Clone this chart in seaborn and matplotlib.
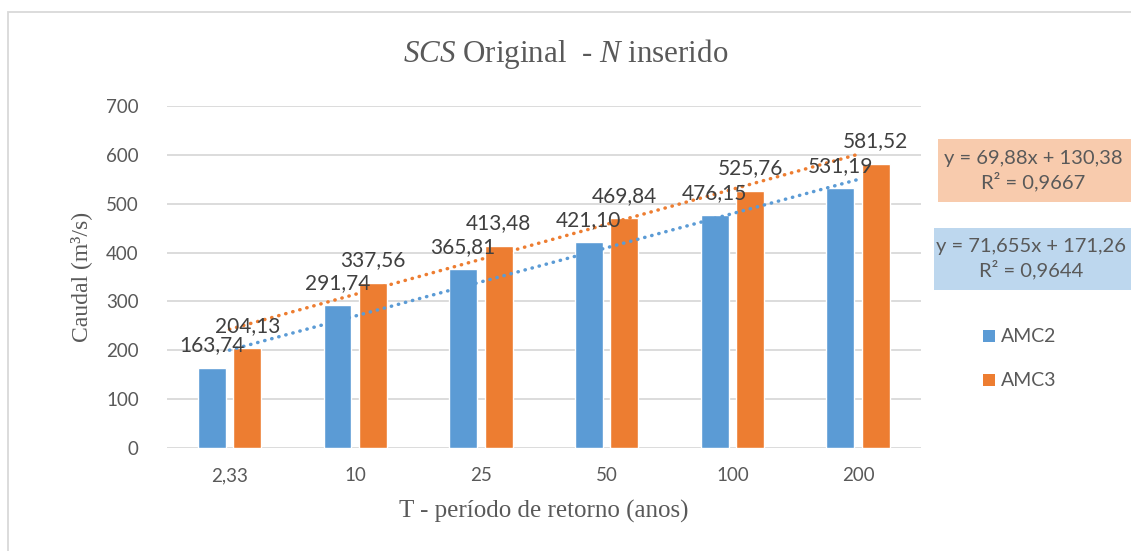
import numpy as np
import pandas as pd
import matplotlib
matplotlib.use("Agg")
import matplotlib.pyplot as plt
from matplotlib.patches import Rectangle
import seaborn as sns

# ---- data ----
categories = ["2,33", "10", "25", "50", "100", "200"]
amc2 = [163.74, 291.74, 365.81, 421.10, 476.15, 531.19]
amc3 = [204.13, 337.56, 413.48, 469.84, 525.76, 581.52]
series_names = ["AMC2", "AMC3"]
eq_texts = ["y = 69,88x + 130,38\nR² = 0,9667", "y = 71,655x + 171,26\nR² = 0,9644"]
yticks = [0, 100, 200, 300, 400, 500, 600, 700]

BLUE = "#5B9BD5"
ORANGE = "#ED7D31"
GREY = "#595959"
GRID = "#D9D9D9"

df = pd.DataFrame({
    "T": categories * 2,
    "Caudal": amc2 + amc3,
    "Serie": [series_names[0]] * len(categories) + [series_names[1]] * len(categories),
})

sns.set_theme(style="white")
plt.rcParams["font.family"] = ["Lato", "DejaVu Sans"]
plt.rcParams["mathtext.fontset"] = "custom"
plt.rcParams["mathtext.rm"] = "Liberation Serif"
plt.rcParams["mathtext.it"] = "Liberation Serif:italic"

W, H = 1131, 551
fig = plt.figure(figsize=(11.31, 5.51), dpi=100)
ax = fig.add_axes([0.1473, 0.1869, 0.8143 - 0.1473, 0.8076 - 0.1869])

sns.barplot(data=df, x="T", y="Caudal", hue="Serie", order=categories,
            hue_order=series_names, palette=[BLUE, ORANGE], width=0.564,
            gap=0.213, ax=ax, legend=False, saturation=1, zorder=2)

ax.set_ylim(0, 700)
ax.set_xlim(-0.5, len(categories) - 0.5)
ax.set_yticks(yticks)
ax.set_yticklabels([str(v) for v in yticks])
ax.yaxis.grid(True, color=GRID, linewidth=1.3, zorder=0)
ax.set_axisbelow(True)
for s in ax.spines.values():
    s.set_visible(False)
ax.tick_params(axis="both", length=0, labelsize=13.5, labelcolor=GREY)
ax.tick_params(axis="y", pad=20)
ax.tick_params(axis="x", pad=14)

# data labels
for cont in ax.containers:
    for bar in cont:
        h = bar.get_height()
        ax.annotate(f"{h:.2f}".replace(".", ","),
                    (bar.get_x() + bar.get_width() / 2, h),
                    xytext=(0, 12), textcoords="offset points",
                    ha="center", va="baseline", fontsize=15,
                    color="#404040", zorder=5)

# linear trend lines
xs = np.arange(len(categories))
for vals, col in [(amc2, BLUE), (amc3, ORANGE)]:
    k, b = np.polyfit(xs, vals, 1)
    ax.plot(xs, k * xs + b, color=col, linewidth=2.5,
            linestyle=(0, (0.1, 2.0)), dash_capstyle="round", zorder=4)

ax.set_xlabel("T - período de retorno (anos)", family="Liberation Serif",
              fontsize=18, color=GREY, labelpad=11)
ax.set_ylabel("Caudal (m³/s)", family="Liberation Serif", fontsize=17,
              color=GREY, labelpad=10)
fig.text(566 / W, 1 - 54 / H, r"$\mathit{SCS}$ Original  - $\mathit{N}$ inserido",
         family="Liberation Serif", fontsize=22.3, color=GREY,
         ha="center", va="center")

# outer chart frame (left and top visible)
fig.patches.append(Rectangle((8 / W, -0.05), 1.2, (1 - 12 / H) + 0.05,
                             transform=fig.transFigure, fill=False,
                             edgecolor=GRID, linewidth=1.3, zorder=0))

# equation boxes
boxes = [(938, 139, 202, "#F8CBAD", eq_texts[0], 1033),
         (934, 228, 290, "#BDD7EE", eq_texts[1], 1031)]
for x0, y0, y1, fc, txt, cx in boxes:
    fig.patches.append(Rectangle((x0 / W, 1 - y1 / H), (W - x0 + 20) / W,
                                 (y1 - y0) / H, transform=fig.transFigure,
                                 facecolor=fc, edgecolor="none", zorder=1))
    fig.text(cx / W, 1 - (y0 + y1) / 2 / H, txt, ha="center", va="center",
             fontsize=14.5, color=GREY, linespacing=1.3)

# legend
for name, col, yc in [(series_names[0], BLUE, 336), (series_names[1], ORANGE, 380)]:
    fig.patches.append(Rectangle((983 / W, 1 - (yc + 6) / H), 12 / W, 12 / H,
                                 transform=fig.transFigure, facecolor=col,
                                 edgecolor="none"))
    fig.text(1001 / W, 1 - yc / H, name, ha="left", va="center",
             fontsize=14, color=GREY)

fig.savefig("out.png", dpi=100, facecolor="white")
